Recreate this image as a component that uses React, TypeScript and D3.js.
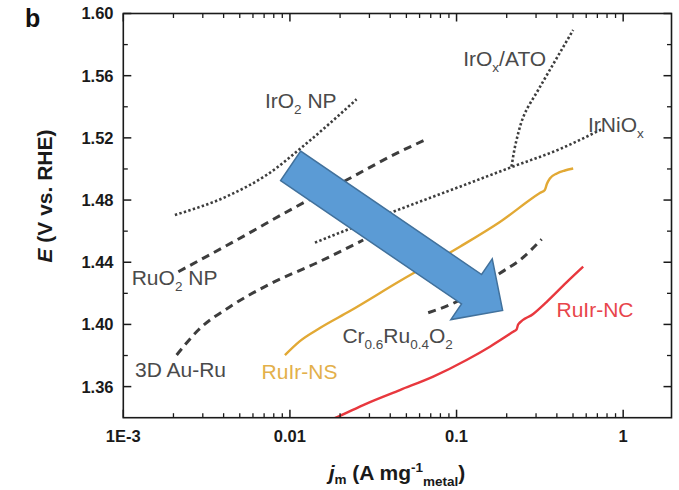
import React from "react";
import * as d3 from "d3";

// Mass activity (A mg^-1 metal) vs. potential (V vs. RHE) for each catalyst
const iro2NP: [number, number][] = [[0.00204,1.4704],[0.00437,1.4833],[0.00724,1.4961],[0.01259,1.5165],[0.02512,1.5448]];
const ruo2NP: [number, number][] = [[0.00214,1.4339],[0.00479,1.4543],[0.01047,1.4747],[0.02188,1.4929],[0.04571,1.5111],[0.06457,1.5186]];
const auRu3D: [number, number][] = [[0.00209,1.3803],[0.00282,1.3964],[0.00437,1.4114],[0.00759,1.426],[0.01445,1.4395],[0.02754,1.4543]];
const crRuO2: [number, number][] = [[0.0676,1.4075],[0.1,1.4146],[0.138,1.4234],[0.182,1.4329],[0.24,1.4414],[0.324,1.4548]];
const irNiOx: [number, number][] = [[0.01413,1.4526],[0.0417,1.4725],[0.1047,1.4886],[0.215,1.5013],[0.417,1.5128],[0.741,1.5255]];
const irOxATO: [number, number][] = [[0.2138,1.5015],[0.229,1.5186],[0.257,1.5358],[0.309,1.5508],[0.3934,1.5701],[0.501,1.5894]];
const ruIrNS: [number, number][] = [[0.00933,1.3803],[0.01148,1.3893],[0.01514,1.3977],[0.02291,1.4086],[0.04571,1.4279],[0.1047,1.45],[0.182,1.4659],[0.3162,1.4845],[0.3388,1.4865],[0.3483,1.4903],[0.3631,1.4939],[0.4,1.4971],[0.4467,1.499],[0.5012,1.5003]];
const ruIrNC: [number, number][] = [[0.0175,1.3385],[0.01888,1.34],[0.02884,1.3491],[0.04571,1.3578],[0.07244,1.3664],[0.1148,1.3771],[0.1585,1.3857],[0.2188,1.3953],[0.2291,1.3967],[0.2344,1.4],[0.2884,1.4067],[0.3467,1.4144],[0.4571,1.427],[0.5754,1.4371]];

const xTickLabels = ["1E-3", "0.01", "0.1", "1"];
const xMajorTicks = [0.001, 0.01, 0.1, 1];
const yMajorTicks = [1.36, 1.4, 1.44, 1.48, 1.52, 1.56, 1.6];
const yMinorTicks = [1.38, 1.42, 1.46, 1.5, 1.54, 1.58];

// Trend arrow anchors (tail centre, tip) in data units
const arrowTail: [number, number] = [0.0101, 1.502];
const arrowTip: [number, number] = [0.189, 1.409];

type Seg = { t: string; sub?: boolean };
const labels: { parts: Seg[]; at: [number, number]; color: string }[] = [
  { parts: [{ t: "IrO" }, { t: "2", sub: true }, { t: " NP" }], at: [0.00708, 1.5392], color: "#4a4a4a" },
  { parts: [{ t: "IrO" }, { t: "x", sub: true }, { t: "/ATO" }], at: [0.1096, 1.5664], color: "#4a4a4a" },
  { parts: [{ t: "IrNiO" }, { t: "x", sub: true }], at: [0.615, 1.524], color: "#4a4a4a" },
  { parts: [{ t: "RuO" }, { t: "2", sub: true }, { t: " NP" }], at: [0.001123, 1.4254], color: "#4a4a4a" },
  { parts: [{ t: "3D Au-Ru" }], at: [0.001175, 1.3664], color: "#4a4a4a" },
  { parts: [{ t: "RuIr-NS" }], at: [0.00676, 1.3647], color: "#E3B04A" },
  { parts: [{ t: "Cr" }, { t: "0.6", sub: true }, { t: "Ru" }, { t: "0.4", sub: true }, { t: "O" }, { t: "2", sub: true }], at: [0.02065, 1.388], color: "#4a4a4a" },
  { parts: [{ t: "RuIr-NC" }], at: [0.398, 1.405], color: "#E8454B" },
];

const W = 679;
const H = 490;
const L = 123.3, R = 671.5, T = 13.5, B = 417.7;
const FONT = "'Liberation Sans', Arial, Helvetica, sans-serif";

export default function App() {
  const x = d3.scaleLog().domain([1e-3, 1.95]).range([L, R]);
  const y = d3.scaleLinear().domain([1.34, 1.6]).range([B, T]);

  const smooth = d3.line<[number, number]>().x(d => x(d[0])).y(d => y(d[1])).curve(d3.curveMonotoneX);
  // the IrOx/ATO branch rises almost vertically, so interpolate along E
  const steep = d3.line<[number, number]>().x(d => x(d[0])).y(d => y(d[1])).curve(d3.curveMonotoneY);

  const xMinor = x.ticks().filter(v => Math.abs(Math.log10(v) - Math.round(Math.log10(v))) > 1e-6 && v < 1.95);

  // block arrow geometry
  const p0 = [x(arrowTail[0]), y(arrowTail[1])];
  const p1 = [x(arrowTip[0]), y(arrowTip[1])];
  const len = Math.hypot(p1[0] - p0[0], p1[1] - p0[1]);
  const u = [(p1[0] - p0[0]) / len, (p1[1] - p0[1]) / len];
  const n = [-u[1], u[0]];
  const bw = 35.6 / 2, hw = 73.5 / 2, hl = 37.6;
  const base = [p1[0] - u[0] * hl, p1[1] - u[1] * hl];
  const pt = (p: number[], k: number) => `${p[0] + n[0] * k},${p[1] + n[1] * k}`;
  const arrowPts = [pt(p0, bw), pt(base, bw), pt(base, hw), `${p1[0]},${p1[1]}`, pt(base, -hw), pt(base, -bw), pt(p0, -bw)].join(" ");

  const lineGray = "#3d3d3d";
  const dotted = "2.4 2.3";
  const dashed = "8 5.5";

  return (
    <svg width={W} height={H} style={{ position: "absolute", left: 0, top: 0, background: "#fff" }} fontFamily={FONT}>
      <defs>
        <clipPath id="plotClip">
          <rect x={L} y={T} width={R - L} height={B - T} />
        </clipPath>
      </defs>

      <text x={25} y={27} fontSize={25} fontWeight="bold" fill="#111">b</text>

      <g clipPath="url(#plotClip)" fill="none">
        <path d={smooth(iro2NP) ?? ""} stroke={lineGray} strokeWidth={2.6} strokeDasharray={dotted} />
        <path d={smooth(irNiOx) ?? ""} stroke={lineGray} strokeWidth={2.6} strokeDasharray={dotted} />
        <path d={steep(irOxATO) ?? ""} stroke={lineGray} strokeWidth={2.6} strokeDasharray={dotted} />
        <path d={smooth(ruo2NP) ?? ""} stroke={lineGray} strokeWidth={3} strokeDasharray={dashed} />
        <path d={smooth(auRu3D) ?? ""} stroke={lineGray} strokeWidth={3} strokeDasharray={dashed} />
        <path d={smooth(crRuO2) ?? ""} stroke={lineGray} strokeWidth={3} strokeDasharray={dashed} />
        <path d={smooth(ruIrNS) ?? ""} stroke="#E2A935" strokeWidth={2.4} strokeLinejoin="round" />
        <path d={smooth(ruIrNC) ?? ""} stroke="#E8383E" strokeWidth={2.4} strokeLinejoin="round" />
      </g>

      <polygon points={arrowPts} fill="#5B9BD5" stroke="#41719C" strokeWidth={1.5} strokeLinejoin="miter" />

      {labels.map((lb, i) => (
        <text key={i} x={x(lb.at[0])} y={y(lb.at[1])} fontSize={21} fill={lb.color}>
          {lb.parts.map((p, j) => {
            const prevSub = j > 0 && lb.parts[j - 1].sub;
            const dy = p.sub ? 6 : prevSub ? -6 : 0;
            return (
              <tspan key={j} dy={dy} fontSize={p.sub ? 13.5 : 21}>{p.t}</tspan>
            );
          })}
        </text>
      ))}

      {/* frame */}
      <rect x={L} y={T} width={R - L} height={B - T} fill="none" stroke="#1a1a1a" strokeWidth={1.6} />

      {/* x ticks, bottom and top, pointing inward */}
      {xMajorTicks.map((v, i) => (
        <g key={"xm" + i}>
          <line x1={x(v)} x2={x(v)} y1={B} y2={B - 8} stroke="#1a1a1a" strokeWidth={1.5} />
          <line x1={x(v)} x2={x(v)} y1={T} y2={T + 8} stroke="#1a1a1a" strokeWidth={1.5} />
          <text x={x(v)} y={442} textAnchor="middle" fontSize={16.5} fontWeight="bold" fill="#1a1a1a">{xTickLabels[i]}</text>
        </g>
      ))}
      {xMinor.map((v, i) => (
        <g key={"xn" + i}>
          <line x1={x(v)} x2={x(v)} y1={B} y2={B - 4.5} stroke="#1a1a1a" strokeWidth={1.3} />
          <line x1={x(v)} x2={x(v)} y1={T} y2={T + 4.5} stroke="#1a1a1a" strokeWidth={1.3} />
        </g>
      ))}

      {/* y ticks, left and right, pointing inward */}
      {yMajorTicks.map((v, i) => (
        <g key={"ym" + i}>
          <line x1={L} x2={L + 8} y1={y(v)} y2={y(v)} stroke="#1a1a1a" strokeWidth={1.5} />
          <line x1={R} x2={R - 8} y1={y(v)} y2={y(v)} stroke="#1a1a1a" strokeWidth={1.5} />
          <text x={113.5} y={y(v)} dy="0.36em" textAnchor="end" fontSize={16.5} fontWeight="bold" fill="#1a1a1a">{v.toFixed(2)}</text>
        </g>
      ))}
      {yMinorTicks.map((v, i) => (
        <g key={"yn" + i}>
          <line x1={L} x2={L + 4.5} y1={y(v)} y2={y(v)} stroke="#1a1a1a" strokeWidth={1.3} />
          <line x1={R} x2={R - 4.5} y1={y(v)} y2={y(v)} stroke="#1a1a1a" strokeWidth={1.3} />
        </g>
      ))}

      {/* axis titles */}
      <text transform="translate(52,196) rotate(-90)" textAnchor="middle" fontSize={21} fontWeight="bold" fill="#1a1a1a">
        <tspan fontStyle="italic">E</tspan>
        <tspan> (V vs. RHE)</tspan>
      </text>
      <text x={397} y={480} textAnchor="middle" fontSize={21} fontWeight="bold" fill="#1a1a1a">
        <tspan fontStyle="italic">j</tspan>
        <tspan fontSize={13.5} dy={4}>m</tspan>
        <tspan dy={-4}> (A mg</tspan>
        <tspan fontSize={13.5} dy={-8}>-1</tspan>
        <tspan fontSize={13.5} dy={14}>metal</tspan>
        <tspan dy={-6}>)</tspan>
      </text>
    </svg>
  );
}
